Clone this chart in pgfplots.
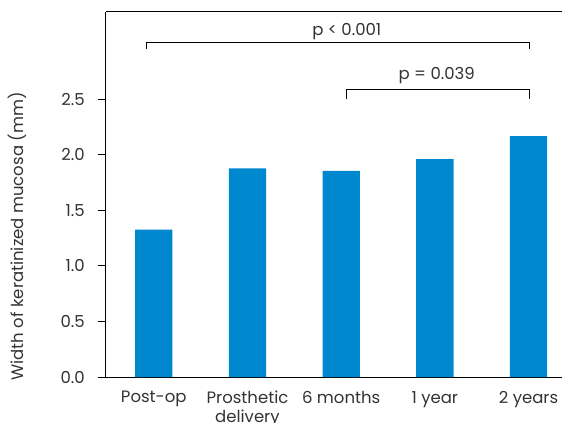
\documentclass[border=0pt]{standalone}
\usepackage{pgfplots}
\pgfplotsset{compat=1.18}
\usepackage{fontspec}
\setmainfont{Poppins}
\definecolor{barblue}{HTML}{0088CE}
\definecolor{txt}{HTML}{333333}
\begin{document}
\begin{tikzpicture}[font=\fontsize{16.5}{18.5}\selectfont]
\begin{axis}[
  scale only axis,
  width=456.3pt, height=365.3pt,
  xmin=-0.513, xmax=4.357,
  ymin=0, ymax=3.285,
  axis x line*=box,
  axis y line*=left,
  axis line style={-, line width=0.9pt, black},
  xtick={0,1,2,3,4},
  xticklabels={Post-op, {Prosthetic\\delivery}, 6 months, 1 year, 2 years},
  xtick style={draw=none},
  xticklabel style={align=center, text=txt, inner sep=0pt, yshift=-6.5pt},
  ytick={0,0.5,1,1.5,2,2.5},
  tick align=outside,
  major tick length=7.7pt,
  ytick style={line width=0.9pt, black},
  yticklabel style={text=txt, inner sep=0pt, xshift=-13pt,
    /pgf/number format/fixed, /pgf/number format/fixed zerofill,
    /pgf/number format/precision=1},
  /pgf/number format/assume math mode=true,
  ylabel={Width of keratinized mucosa (mm)},
  ylabel style={text=txt, at={(axis description cs:0,0.5)}, anchor=center,
    yshift=88pt, xshift=-42pt},
]
\addplot[ybar, bar width=37.3pt, fill=barblue, draw=none]
  coordinates {(0,1.325) (1,1.877) (2,1.853) (3,1.96) (4,2.167)};
\draw[line width=0.9pt] (axis cs:-0.083,2.947) -- (axis cs:-0.083,3.006)
  -- (axis cs:4.01,3.006) -- (axis cs:4.01,2.947);
\draw[line width=0.9pt] (axis cs:2.055,2.497) -- (axis cs:2.055,2.587)
  -- (axis cs:4.01,2.587) -- (axis cs:4.01,2.497);
\node[text=txt] at (axis cs:2.06,3.11) {p < 0.001};
\node[text=txt] at (axis cs:3.02,2.707) {p = 0.039};
\end{axis}
\pgfresetboundingbox
\path ([xshift=-105.7pt,yshift=-45pt]current axis.south west)
  rectangle ([yshift=11.7pt]current axis.north east);
\end{tikzpicture}
\end{document}
